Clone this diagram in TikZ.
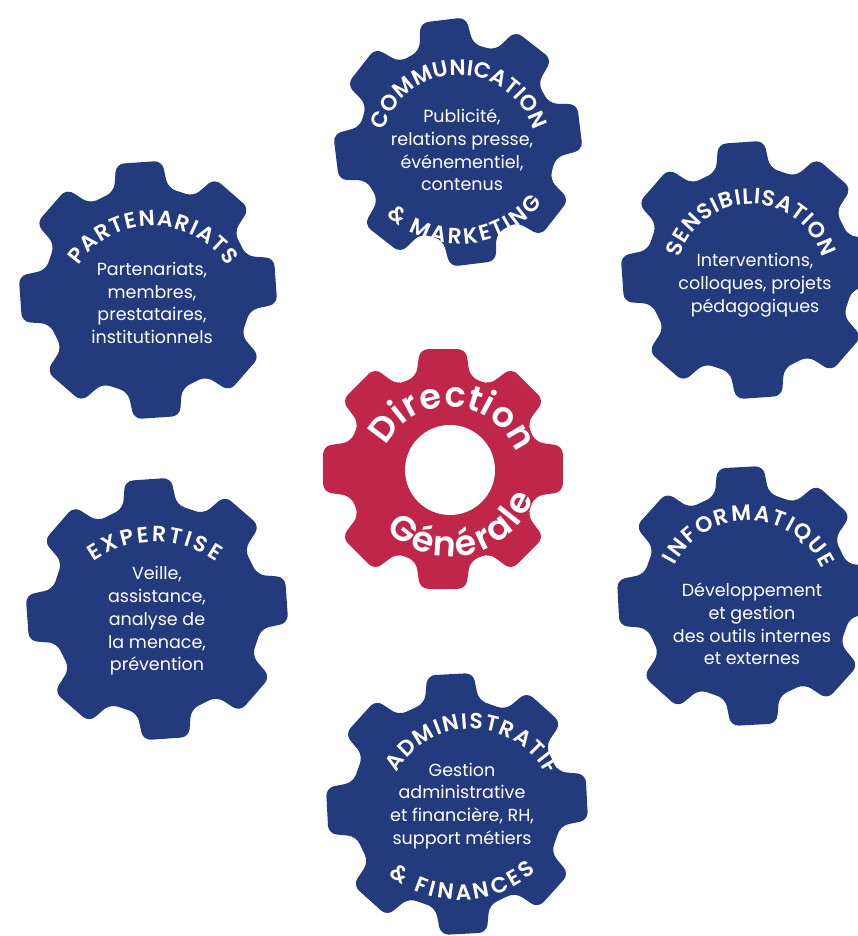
\documentclass[tikz,border=0pt]{standalone}
\usepackage{fontspec}
\setmainfont{Poppins}
\newfontfamily\semib{Poppins SemiBold}
\usetikzlibrary{decorations.text}
\definecolor{gearblue}{HTML}{233B7D}
\definecolor{gearred}{HTML}{C0264A}
\newcommand\titlefont{\semib\fontsize{22}{22}\selectfont}
\newcommand\dgfont{\semib\fontsize{35}{35}\selectfont}
\newcommand\gearsh[5]{% x, y, R, rotation, colour
  \begin{scope}[shift={(#1,#2)}, rotate=#4]
    \pgfmathsetmacro\gr{#3-26}
    \pgfmathsetmacro\db{asin(27/\gr)}
    \pgfmathsetmacro\dt{asin(23/#3)}
    \fill[#5, rounded corners=8pt] (-\db:\gr)
      \foreach \k in {0,45,...,270}{
        -- (\k-\dt:#3) -- (\k+\dt:#3) -- (\k+\db:\gr) -- (\k+45-\db:\gr)}
      -- (315-\dt:#3) -- (315+\dt:#3) -- (315+\db:\gr) -- cycle;
  \end{scope}}
\newcommand\arctext[7]{% x, y, r, start, end, font, text
  \path[decorate, decoration={text along path, text color=white,
     text={|#6|#7}, text align={fit to path}}]
     ([shift={(#1,#2)}]#4:#3) arc[start angle=#4, end angle=#5, radius=#3];}
\tikzset{bodytxt/.style={text=white, align=center, inner sep=0pt,
  font=\fontsize{17.5}{22.8}\selectfont}}
\begin{document}
\begin{tikzpicture}[x=1pt, y=1pt]
\useasboundingbox (0,0) rectangle (858,936);
\clip (0,0) rectangle (858,936);
% gears
\gearsh{458}{794}{125}{7}{gearblue}
\gearsh{148}{646}{130}{4}{gearblue}
\gearsh{750}{666}{130}{4}{gearblue}
\gearsh{443}{467}{122}{0}{gearred}
\fill[white] (450,466) circle[radius=45];
\gearsh{157}{327}{132}{4}{gearblue}
\gearsh{747}{340}{131}{3}{gearblue}
\gearsh{457}{132}{132}{3}{gearblue}
% curved titles
\arctext{459}{783}{78}{163}{17}{\titlefont}{COMMUNICATION}
\arctext{459}{796}{104}{226}{323}{\titlefont}{{\&} MARKETING}
\arctext{153}{620}{90}{146}{34}{\titlefont}{PARTENARIATS}
\arctext{751}{658}{74}{164}{16}{\titlefont}{SENSIBILISATION}
\arctext{450}{458}{71}{153}{21}{\dgfont}{Direction}
\arctext{450}{468}{89}{224}{340}{\dgfont}{Générale}
\arctext{155}{287}{107}{125}{55}{\titlefont}{EXPERTISE}
\arctext{748}{333}{82}{153}{25}{\titlefont}{INFORMATIQUE}
\arctext{471}{122}{85}{151}{27}{\titlefont}{ADMINISTRATIF}
\arctext{460}{152}{116}{232}{311}{\titlefont}{{\&} FINANCES}
% body texts
\node[bodytxt] (comm) at (462,786) {Publicité,\\relations presse,\\événementiel,\\contenus};
\node[bodytxt] (part) at (152,633) {Partenariats,\\membres,\\prestataires,\\institutionnels};
\node[bodytxt] (sens) at (755,651) {Interventions,\\colloques, projets\\pédagogiques};
\node[bodytxt] (expe) at (157,315) {Veille,\\assistance,\\analyse de\\la menace,\\prévention};
\node[bodytxt] (info) at (752,312) {Développement\\et gestion\\des outils internes\\et externes};
\node[bodytxt] (admi) at (462,130) {Gestion\\administrative\\et financière, RH,\\support métiers};
\end{tikzpicture}
\end{document}
